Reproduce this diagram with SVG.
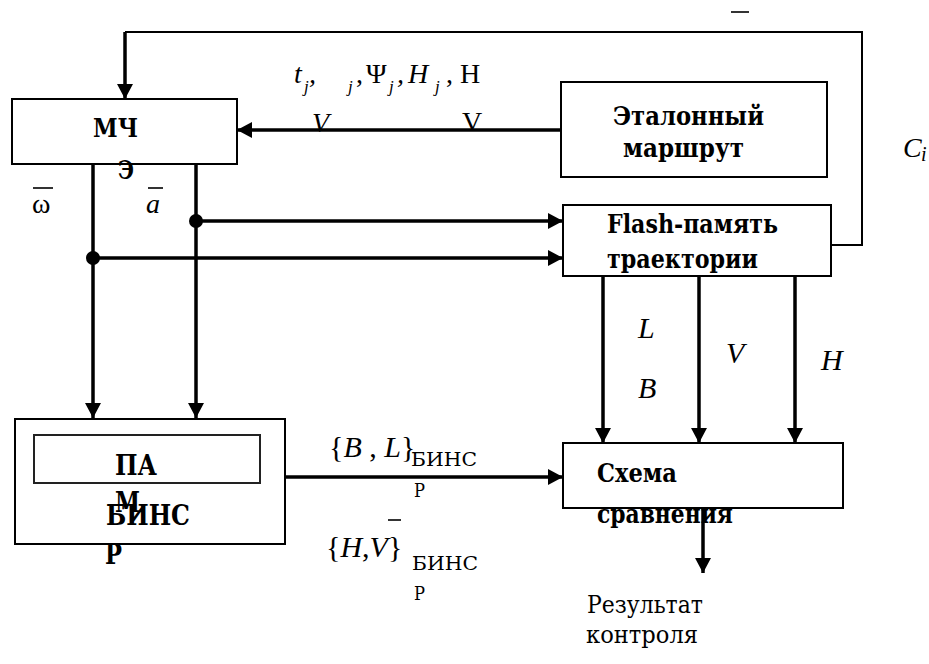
<svg xmlns="http://www.w3.org/2000/svg" width="929" height="664" viewBox="0 0 929 664">
<style>
.box{fill:#fff;stroke:#000;stroke-width:2}
.inner{fill:none;stroke:#222;stroke-width:2}
.b{font-family:"DejaVu Serif","Liberation Serif",serif;font-weight:bold;font-size:26px;fill:#000}
.r{font-family:"Liberation Serif","Times New Roman",serif;font-size:28px;fill:#000}
.cy{font-family:"DejaVu Serif","Liberation Serif",serif;font-size:24px;fill:#000}
.i{font-family:"Liberation Serif","Times New Roman",serif;font-style:italic;font-size:28px;fill:#000}
.sub{font-family:"Liberation Serif","Times New Roman",serif;font-style:italic;font-size:17px;fill:#000}
.subr{font-family:"DejaVu Serif","Liberation Serif",serif;font-size:18px;fill:#000}
.c{fill:none;stroke:#000;stroke-width:3.5}
.thin{fill:none;stroke:#000;stroke-width:2}
.bar{stroke:#000;stroke-width:1.6}
</style>
<defs>
<marker id="ah" markerUnits="userSpaceOnUse" markerWidth="16" markerHeight="16" refX="15" refY="8" orient="auto">
<path d="M0,0 L15,8 L0,16 z" fill="#000"/>
</marker>
</defs>

<g id="connectors">
<path class="thin" d="M832 245 H862 V32 H125"/>
<path class="c" d="M125 32 V99" marker-end="url(#ah)"/>
<path class="c" d="M561 130 H237" marker-end="url(#ah)"/>
<path class="c" d="M93 164 V418" marker-end="url(#ah)"/>
<path class="c" d="M196 164 V418" marker-end="url(#ah)"/>
<path class="c" d="M196 221 H563" marker-end="url(#ah)"/>
<path class="c" d="M93 258 H563" marker-end="url(#ah)"/>
<circle cx="196" cy="221" r="7" fill="#000"/>
<circle cx="93" cy="258" r="7" fill="#000"/>
<path class="c" d="M603 276 V443" marker-end="url(#ah)"/>
<path class="c" d="M699 276 V443" marker-end="url(#ah)"/>
<path class="c" d="M795 276 V443" marker-end="url(#ah)"/>
<path class="c" d="M285 477 H563" marker-end="url(#ah)"/>
<path class="c" d="M703 508 V573" marker-end="url(#ah)"/>
</g>

<g id="labels">
<line class="bar" x1="731" y1="12" x2="749" y2="12"/>
<text class="i" x="294" y="83">t</text><text class="sub" x="304" y="92">j</text><text class="i" x="309" y="83">,</text>
<text class="sub" x="348" y="92">j</text><text class="r" x="356" y="83">,</text>
<text class="r" x="366" y="83">Ψ</text><text class="sub" x="389" y="92">j</text><text class="i" x="397" y="83">,</text>
<text class="i" x="408" y="83">H</text><text class="sub" x="435" y="92">j</text><text class="r" x="446" y="83">,</text>
<text class="r" x="460" y="83">H</text>
<text class="i" x="312" y="132">V</text>
<text class="r" x="462" y="131">V</text>
<text class="i" x="903" y="157">C</text><text class="sub" x="921" y="161" style="font-size:20px">i</text>
<line class="bar" x1="33" y1="188" x2="53" y2="188"/>
<text class="r" x="32" y="213">ω</text>
<line class="bar" x1="148" y1="188" x2="163" y2="188"/>
<text class="i" x="146" y="213">a</text>
<text class="i" x="638" y="338" style="font-size:30px">L</text>
<text class="i" x="638" y="398" style="font-size:30px">B</text>
<text class="i" x="726" y="363" style="font-size:30px">V</text>
<text class="i" x="821" y="370" style="font-size:30px">H</text>
<text class="r" x="329" y="457" style="font-size:30px">{<tspan class="i" style="font-size:30px">B</tspan> , <tspan class="i" style="font-size:30px">L</tspan>}</text>
<text class="subr" x="411" y="466" textLength="66" lengthAdjust="spacingAndGlyphs">БИНС</text>
<text class="subr" x="414" y="497" textLength="11" lengthAdjust="spacingAndGlyphs">Р</text>
<text class="r" x="326" y="557" style="font-size:30px">{<tspan class="i" style="font-size:30px">H</tspan>,<tspan class="i" style="font-size:30px">V</tspan>}</text>
<line class="bar" x1="388" y1="520" x2="401" y2="520"/>
<text class="subr" x="412" y="570" textLength="66" lengthAdjust="spacingAndGlyphs">БИНС</text>
<text class="subr" x="414" y="600" textLength="11" lengthAdjust="spacingAndGlyphs">Р</text>
<text class="cy" x="587" y="613" textLength="116" lengthAdjust="spacingAndGlyphs">Результат</text>
<text class="cy" x="586" y="643" textLength="112" lengthAdjust="spacingAndGlyphs">контроля</text>
</g>

<g id="node-mch">
<rect class="box" x="12" y="99" width="225" height="65"/>
<text class="b" x="93" y="137" textLength="45" lengthAdjust="spacingAndGlyphs">МЧ</text>
<text class="b" x="118" y="179" textLength="16" lengthAdjust="spacingAndGlyphs">Э</text>
</g>

<g id="node-etalon">
<rect class="box" x="561" y="82" width="266" height="95"/>
<text class="b" x="613" y="125" textLength="151" lengthAdjust="spacingAndGlyphs">Эталонный</text>
<text class="b" x="623" y="157" textLength="121" lengthAdjust="spacingAndGlyphs">маршрут</text>
</g>

<g id="node-flash">
<rect class="box" x="563" y="205" width="268" height="71"/>
<text class="b" x="607" y="233" textLength="171" lengthAdjust="spacingAndGlyphs">Flash-память</text>
<text class="b" x="607" y="268" textLength="151" lengthAdjust="spacingAndGlyphs">траектории</text>
</g>

<g id="node-pamb">
<rect class="box" x="15" y="419" width="270" height="125"/>
<rect class="inner" x="34" y="435" width="226" height="48"/>
<text class="b" x="115" y="475" style="font-size:28px" textLength="42" lengthAdjust="spacingAndGlyphs">ПА</text>
<text class="b" x="115" y="512" style="font-size:28px" textLength="25" lengthAdjust="spacingAndGlyphs">М</text>
<text class="b" x="106" y="525" style="font-size:28px" textLength="84" lengthAdjust="spacingAndGlyphs">БИНС</text>
<text class="b" x="105" y="564" style="font-size:28px" textLength="17" lengthAdjust="spacingAndGlyphs">Р</text>
</g>

<g id="node-compare">
<rect class="box" x="563" y="443" width="280" height="65"/>
<text class="b" x="597" y="482" textLength="80" lengthAdjust="spacingAndGlyphs">Схема</text>
<text class="b" x="597" y="523" textLength="136" lengthAdjust="spacingAndGlyphs">сравнения</text>
</g>
</svg>
